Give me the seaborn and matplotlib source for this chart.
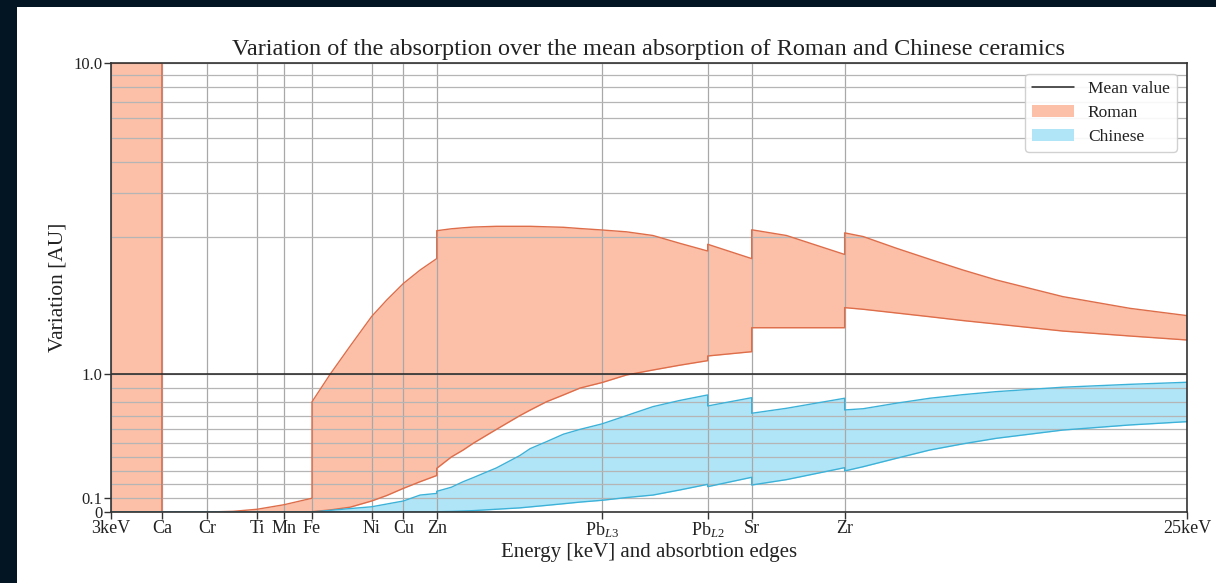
import numpy as np
import pandas as pd
import matplotlib
matplotlib.use("Agg")
import matplotlib.pyplot as plt
from matplotlib.patches import Patch, Rectangle
from matplotlib.lines import Line2D
import seaborn as sns

# ---------------- data ----------------
energy = [3.0, 4.04, 4.04, 4.97, 5.5, 5.99, 6.54, 7.11, 7.11, 7.48, 7.89, 8.33,
          8.64, 8.98, 9.32, 9.66, 9.66, 9.96, 10.2, 10.41, 10.88, 11.36, 11.57,
          11.9, 12.25, 12.59, 13.04, 13.54, 14.08, 14.63, 15.2, 15.2, 16.1, 16.1,
          16.81, 18.0, 18.0, 18.38, 19.06, 19.74, 20.42, 21.1, 22.46, 23.83, 25.0]

roman_upper = [10.0, 10.0, 0.0, 0.0, 0.005, 0.02, 0.053, 0.10, 0.80, 1.0, 1.205, 1.42,
               1.54, 1.66, 1.757, 1.84, 2.112, 2.15, 2.17, 2.185, 2.20, 2.20, 2.20,
               2.19, 2.18, 2.155, 2.126, 2.09, 2.02, 1.951, 1.895, 1.944, 1.84, 2.13,
               2.02, 1.87, 2.07, 2.0, 1.915, 1.835, 1.757, 1.685, 1.564, 1.479, 1.426]

roman_lower = [0.0, 0.0, 0.0, 0.0, 0.0, 0.0, 0.0, 0.0, 0.003, 0.015, 0.035, 0.08,
               0.12, 0.172, 0.22, 0.265, 0.317, 0.40, 0.45, 0.50, 0.60, 0.70, 0.74,
               0.80, 0.85, 0.90, 0.94, 0.995, 1.031, 1.066, 1.099, 1.133, 1.164, 1.338,
               1.338, 1.338, 1.484, 1.472, 1.445, 1.418, 1.39, 1.365, 1.314, 1.278, 1.249]

chinese_upper = [0.0, 0.0, 0.0, 0.0, 0.0, 0.0, 0.0, 0.0, 0.0, 0.012, 0.025, 0.038,
                 0.058, 0.08, 0.123, 0.135, 0.15, 0.18, 0.22, 0.25, 0.32, 0.41, 0.46,
                 0.51, 0.565, 0.60, 0.64, 0.70, 0.765, 0.81, 0.85, 0.77, 0.83, 0.717,
                 0.753, 0.826, 0.741, 0.75, 0.79, 0.826, 0.852, 0.874, 0.906, 0.927, 0.942]

chinese_lower = [0.0, 0.0, 0.0, 0.0, 0.0, 0.0, 0.0, 0.0, 0.0, 0.0, 0.0, 0.0,
                 0.0, 0.0, 0.0, 0.0, 0.002, 0.004, 0.007, 0.01, 0.02, 0.03, 0.037,
                 0.048, 0.06, 0.072, 0.085, 0.105, 0.123, 0.16, 0.201, 0.184, 0.252, 0.196,
                 0.235, 0.322, 0.298, 0.329, 0.39, 0.45, 0.495, 0.535, 0.595, 0.632, 0.656]

edge_positions = [3.0, 4.04, 4.97, 5.99, 6.54, 7.11, 8.33, 8.98, 9.66, 13.04,
                  15.2, 16.1, 18.0, 25.0]
edge_labels = ["3keV", "Ca", "Cr", "Ti", "Mn", "Fe", "Ni", "Cu", "Zn",
               "Pb$_{L3}$", "Pb$_{L2}$", "Sr", "Zr", "25keV"]

mean_value = 1.0
ytick_values = [0, 0.1, 1.0, 10.0]
ytick_labels = ["0", "0.1", "1.0", "10.0"]
yminor_values = [0.2, 0.3, 0.4, 0.5, 0.6, 0.7, 0.8, 0.9, 2, 3, 4, 5, 6, 7, 8, 9]

# ---------------- style ----------------
sns.set_theme(style="whitegrid")
plt.rcParams["font.family"] = ["Liberation Serif", "DejaVu Serif"]
plt.rcParams["mathtext.fontset"] = "custom"
plt.rcParams["mathtext.rm"] = "Liberation Serif"
plt.rcParams["mathtext.it"] = "Liberation Serif:italic"

ROMAN_FILL = "#fcc0a8"
ROMAN_EDGE = "#de6d4a"
CHINA_FILL = "#b0e5f7"
CHINA_EDGE = "#3db2d9"
TEXT = "#222222"

fig = plt.figure(figsize=(12.16, 5.83), dpi=100, facecolor="#031423")
fig.patches.append(Rectangle((17 / 1216, 0), 1, (583 - 7) / 583,
                             transform=fig.transFigure, facecolor="white",
                             edgecolor="none", zorder=-10))
ax = fig.add_axes([111 / 1216, (583 - 512) / 583, (1187 - 111) / 1216, (512 - 63.3) / 583])
ax.set_facecolor("white")

df = pd.DataFrame({"energy": energy, "roman_upper": roman_upper, "roman_lower": roman_lower,
                   "chinese_upper": chinese_upper, "chinese_lower": chinese_lower})

ax.set_yscale("symlog", linthresh=2, linscale=1)

ax.fill_between(df["energy"], df["roman_lower"], df["roman_upper"],
                color=ROMAN_FILL, linewidth=0, zorder=2)
ax.fill_between(df["energy"], df["chinese_lower"], df["chinese_upper"],
                color=CHINA_FILL, linewidth=0, zorder=2)

for col, c in [("roman_upper", ROMAN_EDGE), ("roman_lower", ROMAN_EDGE),
               ("chinese_upper", CHINA_EDGE), ("chinese_lower", CHINA_EDGE)]:
    sns.lineplot(data=df, x="energy", y=col, estimator=None, sort=False,
                 color=c, linewidth=1.0, ax=ax, zorder=3)

sns.lineplot(x=[edge_positions[0], edge_positions[-1]], y=[mean_value, mean_value],
             estimator=None, sort=False, color="#222222", linewidth=1.1, ax=ax, zorder=4)

ax.set_xlim(edge_positions[0], edge_positions[-1])
ax.set_ylim(0, 10)
ax.set_xticks(edge_positions)
ax.set_xticklabels(edge_labels, fontsize=13, color=TEXT)
ax.set_yticks(ytick_values)
ax.set_yticklabels(ytick_labels, fontsize=12, color=TEXT)
ax.set_yticks(yminor_values, minor=True)
ax.xaxis.set_minor_locator(matplotlib.ticker.NullLocator())

ax.grid(True, which="both", axis="y", color="#b5b5b5", linewidth=0.9)
ax.grid(True, which="major", axis="x", color="#a8a8a8", linewidth=0.9)
ax.set_axisbelow(False)

ax.tick_params(axis="both", which="major", bottom=True, left=True, length=5,
               width=1.0, color="#333333", pad=1, direction="out")
ax.tick_params(axis="y", which="minor", left=False, length=0)

for sp in ax.spines.values():
    sp.set_color("#333333")
    sp.set_linewidth(1.2)
    sp.set_zorder(5)

ax.set_title("Variation of the absorption over the mean absorption of Roman and Chinese ceramics",
             fontsize=17.5, color=TEXT, pad=6)
ax.set_xlabel("Energy [keV] and absorbtion edges", fontsize=15, color=TEXT, labelpad=2)
ax.set_ylabel("Variation [AU]", fontsize=15.5, color=TEXT, labelpad=4)

handles = [Line2D([0], [0], color="#222222", linewidth=1.1),
           Patch(facecolor=ROMAN_FILL, edgecolor="none"),
           Patch(facecolor=CHINA_FILL, edgecolor="none")]
leg = ax.legend(handles, ["Mean value", "Roman", "Chinese"], loc="upper right",
                fontsize=12.5, frameon=True, fancybox=True, framealpha=0.9,
                edgecolor="#cccccc", borderaxespad=0.6, handlelength=2.4,
                labelspacing=0.45)
for t in leg.get_texts():
    t.set_color(TEXT)
leg.set_zorder(6)

fig.savefig("out.png", dpi=100, facecolor=fig.get_facecolor())
